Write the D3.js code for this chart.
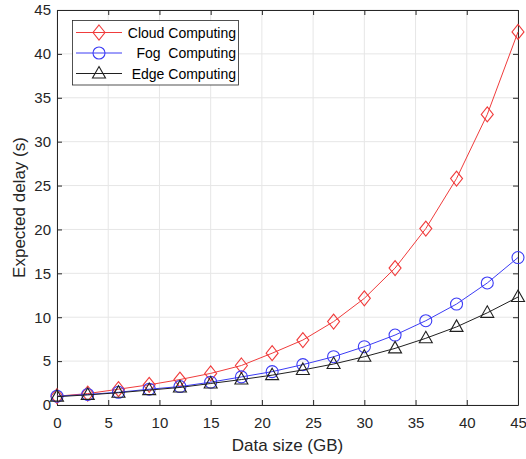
<!DOCTYPE html>
<html>
<head>
<meta charset="utf-8">
<script src="https://cdn.jsdelivr.net/npm/d3@7"></script>
<style>
  body { margin: 0; background: #fff; }
  text { font-family: "Liberation Sans", Arial, sans-serif; }
</style>
</head>
<body>
<div id="chart"></div>
<script>
// data
var dataSize = [0, 3, 6, 9, 12, 15, 18, 21, 24, 27, 30, 33, 36, 39, 42, 45];
var cloudDelay = [1.0, 1.3, 1.8, 2.3, 2.9, 3.6, 4.5, 5.9, 7.4, 9.5, 12.15, 15.6, 20.1, 25.8, 33.1, 42.5];
var fogDelay = [1.0, 1.2, 1.45, 1.8, 2.1, 2.6, 3.2, 3.8, 4.6, 5.5, 6.64, 7.97, 9.6, 11.5, 13.9, 16.8];
var edgeDelay = [0.95, 1.15, 1.4, 1.7, 2.0, 2.45, 2.9, 3.4, 3.99, 4.67, 5.5, 6.45, 7.6, 8.9, 10.5, 12.3];
var xTicks = [0, 5, 10, 15, 20, 25, 30, 35, 40, 45];
var yTicks = [0, 5, 10, 15, 20, 25, 30, 35, 40, 45];
var seriesNames = ["Cloud Computing", "Fog  Computing", "Edge Computing"];

var svgWidth = 526;
var svgHeight = 459;
var margin = { top: 10, right: 8, bottom: 54, left: 57 };
var chartWidth = svgWidth - margin.left - margin.right;
var chartHeight = svgHeight - margin.top - margin.bottom;

var svg = d3.select("#chart").append("svg")
  .attr("width", svgWidth).attr("height", svgHeight);
var chartGroup = svg.append("g")
  .attr("transform", `translate(${margin.left}, ${margin.top})`);

var xScale = d3.scaleLinear().domain([0, 45]).range([0, chartWidth]);
var yScale = d3.scaleLinear().domain([0, 45]).range([chartHeight, 0]);

var axisColor = "#262626";

// grid
chartGroup.append("g").selectAll("line").data(xTicks).enter().append("line")
  .attr("x1", d => xScale(d)).attr("x2", d => xScale(d))
  .attr("y1", 0).attr("y2", chartHeight)
  .attr("stroke", "#e6e6e6").attr("stroke-width", 1);
chartGroup.append("g").selectAll("line").data(yTicks).enter().append("line")
  .attr("y1", d => yScale(d)).attr("y2", d => yScale(d))
  .attr("x1", 0).attr("x2", chartWidth)
  .attr("stroke", "#e6e6e6").attr("stroke-width", 1);

// axes (ticks inside, box on)
function styleAxis(g) {
  g.select(".domain").attr("stroke", axisColor);
  g.selectAll(".tick line").attr("stroke", axisColor);
  g.selectAll(".tick text").attr("fill", axisColor)
    .style("font-size", "15px").style("font-family", "Liberation Sans, Arial, sans-serif");
}
var bottomAxis = d3.axisBottom(xScale).tickValues(xTicks).tickSizeInner(-5).tickSizeOuter(0).tickPadding(12);
var leftAxis = d3.axisLeft(yScale).tickValues(yTicks).tickSizeInner(-5).tickSizeOuter(0).tickPadding(6);
var topAxis = d3.axisTop(xScale).tickValues(xTicks).tickSizeInner(-5).tickSizeOuter(0).tickFormat("");
var rightAxis = d3.axisRight(yScale).tickValues(yTicks).tickSizeInner(-5).tickSizeOuter(0).tickFormat("");

chartGroup.append("g").attr("transform", `translate(0, ${chartHeight})`).call(bottomAxis).call(styleAxis);
chartGroup.append("g").call(leftAxis).call(styleAxis);
chartGroup.append("g").call(topAxis).call(styleAxis);
chartGroup.append("g").attr("transform", `translate(${chartWidth}, 0)`).call(rightAxis).call(styleAxis);

// axis labels
svg.append("text")
  .attr("x", margin.left + chartWidth / 2).attr("y", 451)
  .attr("text-anchor", "middle").attr("fill", axisColor)
  .style("font-size", "17px").text("Data size (GB)");
svg.append("text")
  .attr("transform", `translate(25, ${margin.top + chartHeight / 2}) rotate(-90)`)
  .attr("text-anchor", "middle").attr("fill", axisColor)
  .style("font-size", "17px").text("Expected delay (s)");

// series
var series = [
  { name: seriesNames[0], values: cloudDelay, color: "#f03c3c", marker: "diamond" },
  { name: seriesNames[1], values: fogDelay, color: "#3c3cf5", marker: "circle" },
  { name: seriesNames[2], values: edgeDelay, color: "#202020", marker: "triangle" }
];

var line = d3.line()
  .x((d, i) => xScale(dataSize[i]))
  .y(d => yScale(d));

function drawMarker(g, type, color, x, y) {
  if (type === "diamond") {
    g.append("path")
      .attr("d", `M${x},${y - 7.5}L${x + 6},${y}L${x},${y + 7.5}L${x - 6},${y}Z`)
      .attr("fill", "none").attr("stroke", color).attr("stroke-width", 1.1);
  } else if (type === "circle") {
    g.append("circle").attr("cx", x).attr("cy", y).attr("r", 6)
      .attr("fill", "none").attr("stroke", color).attr("stroke-width", 1.1);
  } else {
    g.append("path")
      .attr("d", `M${x},${y - 7}L${x + 6.5},${y + 4.5}L${x - 6.5},${y + 4.5}Z`)
      .attr("fill", "none").attr("stroke", color).attr("stroke-width", 1.1);
  }
}

series.forEach(function(s) {
  chartGroup.append("path")
    .datum(s.values)
    .attr("d", line)
    .attr("fill", "none")
    .attr("stroke", s.color)
    .attr("stroke-width", 1);
  var mg = chartGroup.append("g");
  s.values.forEach(function(v, i) {
    drawMarker(mg, s.marker, s.color, xScale(dataSize[i]), yScale(v));
  });
});

// legend
var legend = svg.append("g");
legend.append("rect")
  .attr("x", 72.5).attr("y", 20.5).attr("width", 166).attr("height", 64.5)
  .attr("fill", "#fff").attr("stroke", axisColor).attr("stroke-width", 0.8);
series.forEach(function(s, i) {
  var ly = 32.5 + i * 20.5;
  legend.append("line")
    .attr("x1", 76).attr("x2", 122).attr("y1", ly).attr("y2", ly)
    .attr("stroke", s.color).attr("stroke-width", 1);
  drawMarker(legend, s.marker, s.color, 99, ly);
  legend.append("text")
    .attr("x", 236).attr("y", ly + 5)
    .attr("text-anchor", "end").attr("fill", "#000")
    .style("font-size", "14px").style("white-space", "pre")
    .attr("xml:space", "preserve")
    .text(s.name);
});
</script>
</body>
</html>
